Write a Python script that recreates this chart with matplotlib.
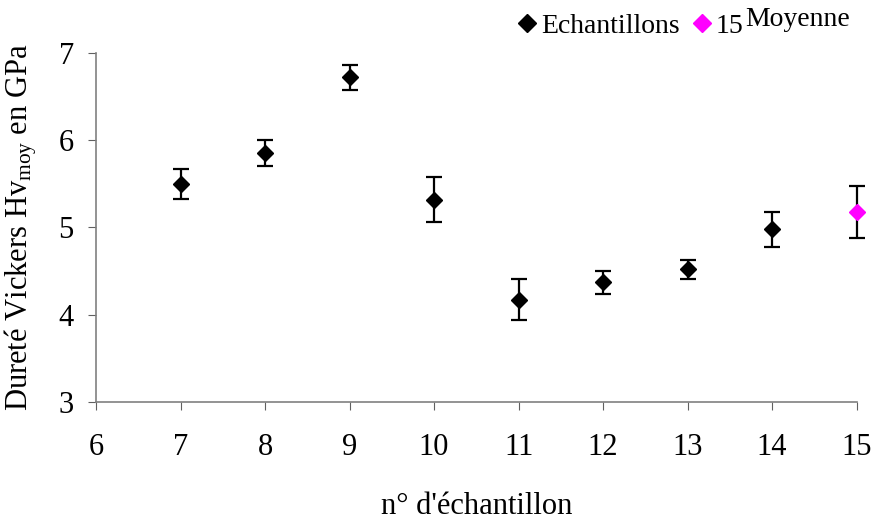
import numpy as np
import matplotlib
matplotlib.use("Agg")
import matplotlib.pyplot as plt

plt.rcParams['font.family'] = ['Liberation Serif', 'DejaVu Serif']
plt.rcParams['mathtext.fontset'] = 'custom'
plt.rcParams['mathtext.rm'] = 'Liberation Serif'
plt.rcParams['mathtext.it'] = 'Liberation Serif:italic'

# data
ech_x = [7, 8, 9, 10, 11, 12, 13, 14]
ech_y = [5.50, 5.85, 6.72, 5.32, 4.17, 4.37, 4.52, 4.98]
ech_err = [0.17, 0.15, 0.14, 0.26, 0.235, 0.13, 0.11, 0.20]
moy_x = [15]
moy_y = [5.18]
moy_err = [0.30]

fig = plt.figure(figsize=(8.75, 5.23), dpi=100)
ax = fig.add_axes([0.1097, 0.2314, 0.8693, 0.6673])

for x, y, e, c, lab in [(ech_x, ech_y, ech_err, 'black', 'Echantillons'),
                        (moy_x, moy_y, moy_err, '#ff00ff', '15')]:
    cont = ax.errorbar(x, y, yerr=e, fmt='D', color=c, ms=8,
                       ecolor='black', elinewidth=1.6, capsize=6, capthick=1.6,
                       label=lab)
    cont[0].set_clip_on(False)
    for a in cont[1] + cont[2]:
        a.set_clip_on(False)
    cont[0].set_zorder(4)

ax.set_xlim(6, 15)
ax.set_ylim(3, 7)
ax.set_xticks(range(6, 16))
ax.set_yticks(range(3, 8))
ax.spines['top'].set_visible(False)
ax.spines['right'].set_visible(False)
for s in ['left', 'bottom']:
    ax.spines[s].set_color('#808080')
    ax.spines[s].set_linewidth(1.2)
ax.tick_params(direction='out', length=6, color='#606060', labelsize=22)
ax.tick_params(axis='x', pad=16)
ax.tick_params(axis='y', pad=10)

ax.set_xlabel("n° d'échantillon", fontsize=22, labelpad=22)
ax.set_ylabel("Dureté Vickers Hv$_{\\mathrm{moy}}$ en GPa", fontsize=22, labelpad=14)

# legend without error bars in handles
handles, labels = ax.get_legend_handles_labels()
handles = [h[0] for h in handles]
leg = fig.legend(handles, labels, loc='center left', bbox_to_anchor=(0.588, 0.950),
                 ncol=2, frameon=False, fontsize=20, handletextpad=0.05,
                 columnspacing=0.35, handlelength=0.9, borderpad=0, borderaxespad=0,
                 markerscale=1.15)
txt = leg.get_texts()[1]
fig.canvas.draw()
ax.annotate('Moyenne', xy=(1, 0), xycoords=txt, xytext=(1, 5),
            textcoords='offset points', ha='left', va='bottom', fontsize=20)

fig.savefig('out.png', dpi=100)
